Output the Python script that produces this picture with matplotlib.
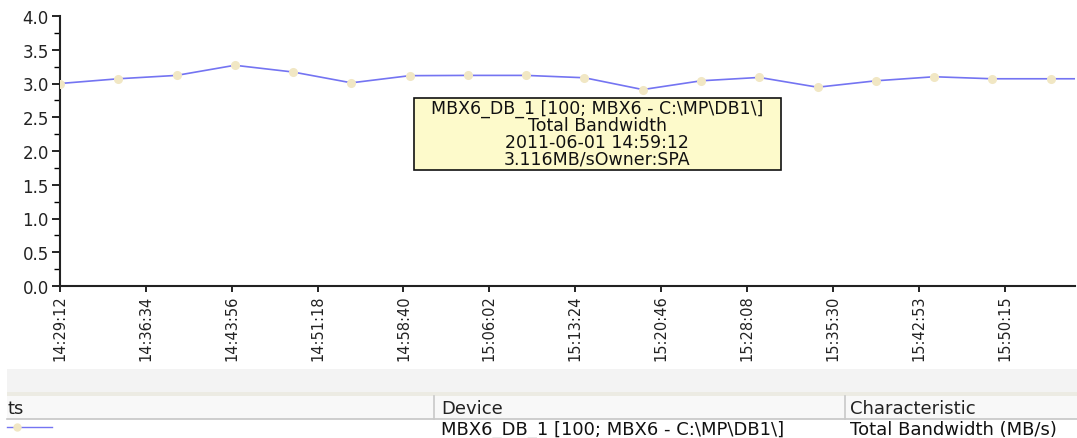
import numpy as np
import matplotlib
matplotlib.use('Agg')
import matplotlib.pyplot as plt
from matplotlib.patches import Rectangle
from matplotlib.lines import Line2D
from matplotlib.ticker import MultipleLocator, FormatStrFormatter

# samples, every 5 minutes
times = ['14:29:12', '14:34:12', '14:39:12', '14:44:12', '14:49:12', '14:54:12',
         '14:59:12', '15:04:12', '15:09:12', '15:14:12', '15:19:12', '15:24:12',
         '15:29:12', '15:34:12', '15:39:12', '15:44:12', '15:49:12', '15:54:12',
         '15:59:12']
bandwidth = [3.00, 3.07, 3.12, 3.27, 3.17, 3.01, 3.116, 3.12, 3.12, 3.085,
             2.91, 3.04, 3.09, 2.945, 3.04, 3.10, 3.07, 3.07, 3.07]

tick_labels = ['14:29:12', '14:36:34', '14:43:56', '14:51:18', '14:58:40',
               '15:06:02', '15:13:24', '15:20:46', '15:28:08', '15:35:30',
               '15:42:53', '15:50:15']

tooltip = ['MBX6_DB_1 [100; MBX6 - C:\\MP\\DB1\\]', 'Total Bandwidth',
           '2011-06-01 14:59:12', '3.116MB/sOwner:SPA']

columns = ['ts', 'Device', 'Characteristic']
row = ['', 'MBX6_DB_1 [100; MBX6 - C:\\MP\\DB1\\]', 'Total Bandwidth (MB/s)']


def secs(s):
    h, m, sec = [int(v) for v in s.split(':')]
    return h*3600 + m*60 + sec

t0 = secs(times[0])
x = np.array([secs(t) - t0 for t in times])
xt = np.array([secs(t) - t0 for t in tick_labels])

W, H = 1077, 439
fig = plt.figure(figsize=(W/100, H/100), dpi=100)

def fx(px):
    return px/W

def fy(py):
    return 1 - py/H

ax = fig.add_axes([fx(60), fy(287), fx(1075-60), (287-17)/H])

line_c = '#7474f2'
mark_c = '#f1e7c4'
ax.plot(x, bandwidth, c=line_c, lw=1.2, marker='o', ms=5.5,
        mfc=mark_c, mec=mark_c, zorder=3)

ax.set_ylim(0, 4)
ax.set_xlim(0, 5225)
ax.yaxis.set_major_locator(MultipleLocator(0.5))
ax.yaxis.set_minor_locator(MultipleLocator(0.25))
ax.yaxis.set_major_formatter(FormatStrFormatter('%.1f'))
ax.set_xticks(xt)
ax.set_xticklabels(tick_labels, rotation=90,
                   family=['Liberation Sans Narrow', 'DejaVu Sans Condensed', 'DejaVu Sans'],
                   fontsize=10.5, color='#222222')

for s in ['top', 'right']:
    ax.spines[s].set_visible(False)
for s in ['left', 'bottom']:
    ax.spines[s].set_linewidth(1.5)
    ax.spines[s].set_color('#222222')

ax.tick_params(axis='y', which='major', length=6, width=1.2, labelsize=12,
               labelcolor='#222222', pad=2)
ax.tick_params(axis='y', which='minor', length=4, width=1.0)
ax.tick_params(axis='x', which='major', length=4, width=1.2, pad=2)

# tooltip
fig.add_artist(Rectangle((fx(414), fy(171)), fx(781-414), (171-99)/H,
                         transform=fig.transFigure, fc='#fdfacb', ec='#111111',
                         lw=1.2, zorder=5))
for i, s in enumerate(tooltip):
    fig.text(fx(597), fy(109 + 17*i), s, ha='center', va='center',
             fontsize=12.5, color='#111111', zorder=6)

# bottom table strip
fig.add_artist(Rectangle((fx(7), fy(393)), fx(W-7), 23/H,
                         transform=fig.transFigure, fc='#f3f3f3', ec='none'))
fig.add_artist(Rectangle((fx(7), fy(397)), fx(W-7), 4/H,
                         transform=fig.transFigure, fc='#ecebe3', ec='none'))
fig.add_artist(Rectangle((fx(7), fy(420)), fx(W-7), 23/H,
                         transform=fig.transFigure, fc='#f8f8f8', ec='none'))
fig.add_artist(Line2D([fx(7), 1], [fy(420), fy(420)], transform=fig.transFigure,
                      c='#c6c6c6', lw=1.2))
for xs in [434, 845]:
    fig.add_artist(Line2D([fx(xs), fx(xs)], [fy(397), fy(420)],
                          transform=fig.transFigure, c='#c8c8c8', lw=1.2))

col_x = [8, 441, 850]
for cx, s in zip(col_x, columns):
    fig.text(fx(cx), fy(409), s, ha='left', va='center', fontsize=13,
             color='#222222')
for cx, s in zip(col_x, row):
    if s:
        fig.text(fx(cx), fy(430), s, ha='left', va='center', fontsize=13,
                 color='#111111')

fig.add_artist(Line2D([fx(7), fx(52)], [fy(428), fy(428)], transform=fig.transFigure,
                      c=line_c, lw=1.0))
fig.add_artist(Line2D([fx(17)], [fy(428)], transform=fig.transFigure, ls='none',
                      marker='o', ms=5, mfc=mark_c, mec=mark_c))

fig.savefig('out.png', dpi=100)
